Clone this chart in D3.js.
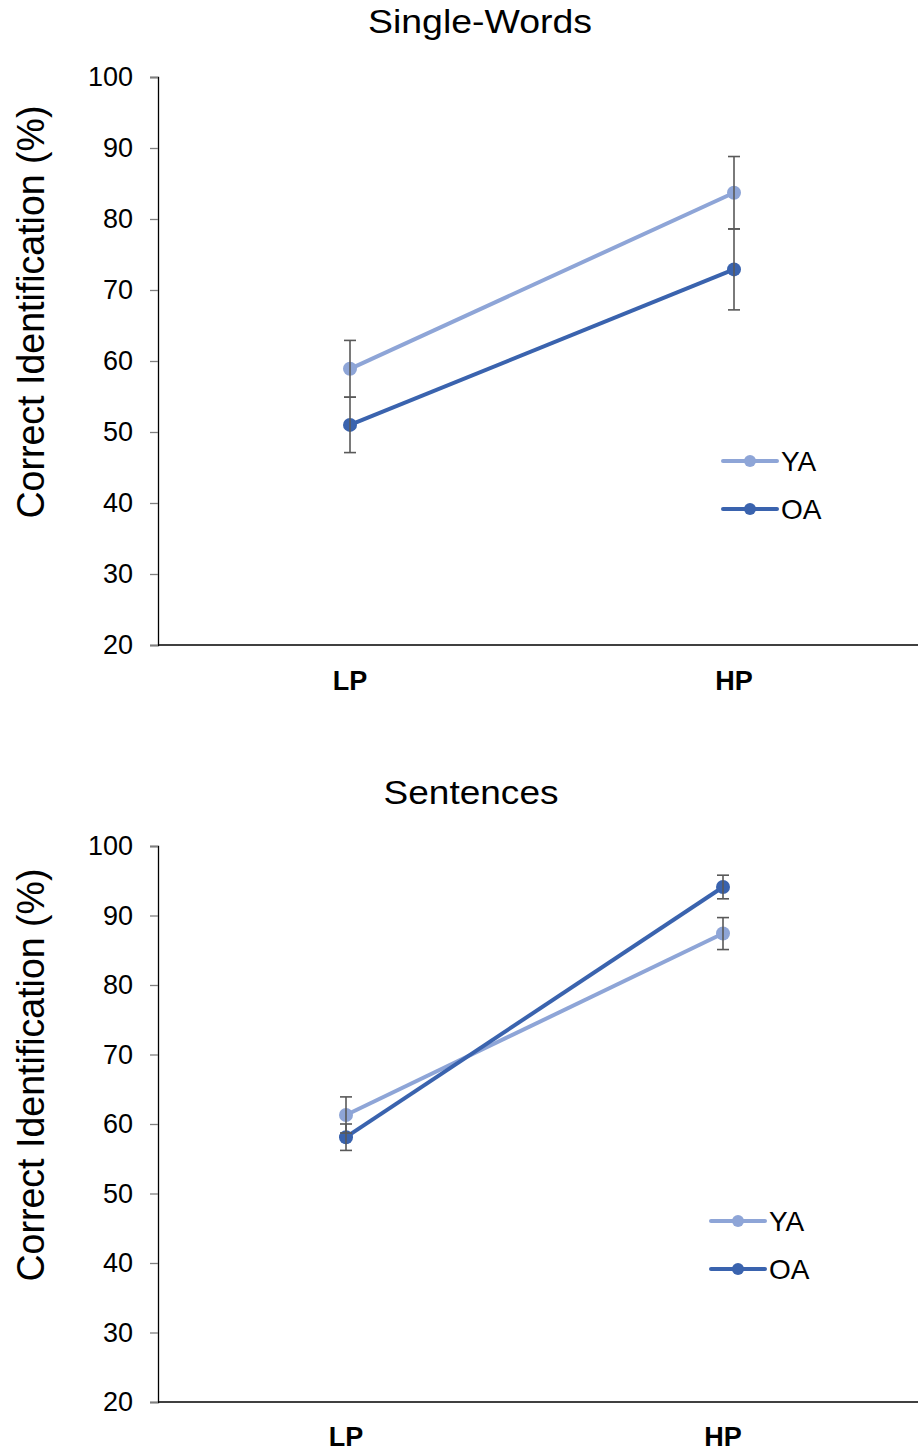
<!DOCTYPE html>
<html>
<head>
<meta charset="utf-8">
<script src="https://cdn.jsdelivr.net/npm/d3@7"></script>
<style>
  html, body { margin: 0; padding: 0; background: #fff; }
  svg { display: block; font-family: Arial, "Liberation Sans", sans-serif; }
</style>
</head>
<body>
<svg id="chart" width="918" height="1451"></svg>
<script>
// Conditions and groups
const categories = ["LP", "HP"];
const groups = ["YA", "OA"];
const yTicks = [20, 30, 40, 50, 60, 70, 80, 90, 100];

// Single-word identification (%), mean and error
const wordsYA = [58.9, 83.7];
const wordsYAerr = [4.0, 5.1];
const wordsOA = [51.0, 72.9];
const wordsOAerr = [3.9, 5.7];

// Sentence identification (%), mean and error
const sentYA = [61.3, 87.4];
const sentYAerr = [2.6, 2.3];
const sentOA = [58.1, 94.1];
const sentOAerr = [1.9, 1.7];

const colors = { YA: "#8EA5D7", OA: "#3A63AE" };
const FONT = "Arial, 'Liberation Sans', sans-serif";

const panels = [
  {
    title: "Single-Words", titleLen: 224,
    titleX: 480, titleY: 33,
    top: 77, bottom: 645, left: 158, right: 918,
    catX: [350, 734], catLabelY: 690,
    legendX: 723, legendY: 461,
    series: { YA: [wordsYA, wordsYAerr], OA: [wordsOA, wordsOAerr] }
  },
  {
    title: "Sentences", titleLen: 175,
    titleX: 471, titleY: 804,
    top: 846, bottom: 1402, left: 158, right: 918,
    catX: [346, 723], catLabelY: 1446,
    legendX: 711, legendY: 1221,
    series: { YA: [sentYA, sentYAerr], OA: [sentOA, sentOAerr] }
  }
];

const svg = d3.select("#chart");

panels.forEach(p => {
  const g = svg.append("g");

  const y = d3.scaleLinear().domain([20, 100]).range([p.bottom, p.top]);
  const x = d3.scalePoint().domain(categories).range(p.catX);

  // title
  g.append("text")
    .attr("x", p.titleX).attr("y", p.titleY)
    .attr("text-anchor", "middle")
    .attr("font-size", 33)
    .attr("textLength", p.titleLen)
    .attr("lengthAdjust", "spacingAndGlyphs")
    .attr("fill", "#000")
    .text(p.title);

  // y axis
  const yAxis = g.append("g")
    .attr("transform", `translate(${p.left},0)`)
    .call(d3.axisLeft(y).tickValues(yTicks).tickSize(8).tickPadding(17));
  yAxis.select(".domain").attr("stroke", "#000").attr("stroke-width", 1.3);
  yAxis.selectAll(".tick line").attr("stroke", "#808080").attr("stroke-width", 1.3);
  yAxis.selectAll(".tick text")
    .attr("font-size", 27).attr("fill", "#000")
    .attr("font-family", FONT);

  // x axis line
  g.append("line")
    .attr("x1", p.left).attr("x2", p.right)
    .attr("y1", p.bottom).attr("y2", p.bottom)
    .attr("stroke", "#000").attr("stroke-width", 1.3);

  // category labels
  g.selectAll(".cat").data(categories).enter().append("text")
    .attr("x", d => x(d)).attr("y", p.catLabelY)
    .attr("text-anchor", "middle")
    .attr("font-size", 27).attr("font-weight", "bold")
    .text(d => d);

  // y label
  g.append("text")
    .attr("transform", `translate(44,${(p.top + p.bottom) / 2 - 49}) rotate(-90)`)
    .attr("text-anchor", "middle")
    .attr("font-size", 38)
    .attr("textLength", 413)
    .attr("lengthAdjust", "spacingAndGlyphs")
    .text("Correct Identification (%)");

  // lines
  const line = d3.line().x((d, i) => x(categories[i])).y(d => y(d));
  groups.forEach(grp => {
    const [vals] = p.series[grp];
    g.append("path")
      .datum(vals)
      .attr("d", line)
      .attr("fill", "none")
      .attr("stroke", colors[grp])
      .attr("stroke-width", 4);
  });

  // points
  groups.forEach(grp => {
    const [vals] = p.series[grp];
    g.selectAll(null).data(vals).enter().append("circle")
      .attr("cx", (d, i) => x(categories[i]))
      .attr("cy", d => y(d))
      .attr("r", 7)
      .attr("fill", colors[grp]);
  });

  // error bars
  groups.forEach(grp => {
    const [vals, errs] = p.series[grp];
    const eb = g.selectAll(null).data(vals).enter().append("g")
      .attr("stroke", "#595959").attr("stroke-width", 1.6);
    eb.append("line")
      .attr("x1", (d, i) => x(categories[i])).attr("x2", (d, i) => x(categories[i]))
      .attr("y1", (d, i) => y(d + errs[i])).attr("y2", (d, i) => y(d - errs[i]));
    eb.append("line")
      .attr("x1", (d, i) => x(categories[i]) - 6).attr("x2", (d, i) => x(categories[i]) + 6)
      .attr("y1", (d, i) => y(d + errs[i])).attr("y2", (d, i) => y(d + errs[i]));
    eb.append("line")
      .attr("x1", (d, i) => x(categories[i]) - 6).attr("x2", (d, i) => x(categories[i]) + 6)
      .attr("y1", (d, i) => y(d - errs[i])).attr("y2", (d, i) => y(d - errs[i]));
  });

  // legend
  groups.forEach((grp, k) => {
    const ly = p.legendY + k * 48;
    const lg = g.append("g");
    lg.append("line")
      .attr("x1", p.legendX).attr("x2", p.legendX + 54)
      .attr("y1", ly).attr("y2", ly)
      .attr("stroke", colors[grp]).attr("stroke-width", 4)
      .attr("stroke-linecap", "round");
    lg.append("circle")
      .attr("cx", p.legendX + 27).attr("cy", ly).attr("r", 6)
      .attr("fill", colors[grp]);
    lg.append("text")
      .attr("x", p.legendX + 58).attr("y", ly + 10)
      .attr("font-size", 28)
      .text(grp);
  });
});
</script>
</body>
</html>
